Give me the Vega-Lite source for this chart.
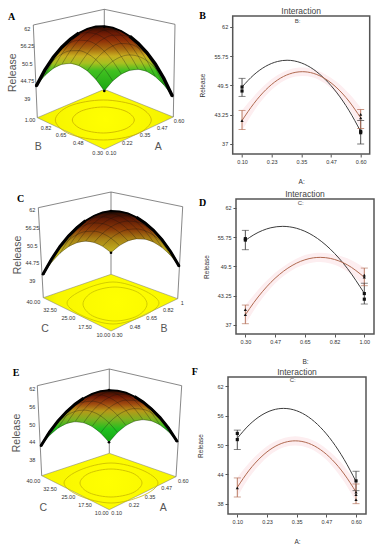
{"$schema":"https://vega.github.io/schema/vega-lite/v6.json","background":"white","padding":{"left":0,"top":5,"right":0,"bottom":0},"bounds":"flush","spacing":361,
"config":{"view":{"stroke":null},"font":"Liberation Sans"},
"datasets":{
"dome":[
{"x":-68,"aT":85,"aB":85,"cT":273.3,"cB":273.3,"eT":446.7,"eB":446.7},
{"x":-59.5,"aT":69.1,"aB":74.7,"cT":258.2,"cB":261.5,"eT":433,"eB":436.6},
{"x":-51,"aT":56.25,"aB":67.5,"cT":245.5,"cB":252.3,"eT":422,"eB":429.2},
{"x":-42.5,"aT":46.2,"aB":63.44,"cT":235.1,"cB":245.7,"eT":412.8,"eB":424.7},
{"x":-34,"aT":38.2,"aB":62.5,"cT":226.5,"cB":241.7,"eT":405.2,"eB":422.85},
{"x":-25.5,"aT":32.05,"aB":64.7,"cT":219.7,"cB":240.3,"eT":399.2,"eB":423.8},
{"x":-17,"aT":27.83,"aB":70,"cT":214.7,"cB":241.5,"eT":394.9,"eB":427.5},
{"x":-8.5,"aT":25.5,"aB":78.4,"cT":211.4,"cB":245.3,"eT":392.2,"eB":434},
{"x":0,"aT":25.11,"aB":90,"cT":210,"cB":251.7,"eT":391.05,"eB":443.3},
{"x":8.5,"aT":26.6,"aB":80.1,"cT":210.3,"cB":244.6,"eT":391.6,"eB":433.6},
{"x":17,"aT":30,"aB":73.25,"cT":212.4,"cB":240,"eT":393.7,"eB":426.55},
{"x":25.5,"aT":35.3,"aB":69.4,"cT":216.2,"cB":237.9,"eT":397.5,"eB":422.3},
{"x":34,"aT":42.5,"aB":68.5,"cT":221.9,"cB":238.3,"eT":402.9,"eB":420.8},
{"x":42.5,"aT":51.6,"aB":70.6,"cT":229.3,"cB":241.2,"eT":410,"eB":422.05},
{"x":51,"aT":63,"aB":75.75,"cT":238.6,"cB":246.6,"eT":418.6,"eB":426.05},
{"x":59.5,"aT":77.4,"aB":83.9,"cT":250.5,"cB":254.5,"eT":429.1,"eB":432.8},
{"x":68,"aT":95,"aB":95,"cT":264.9,"cB":264.9,"eT":442.3,"eB":442.3}],
"mesh":[
{"u":-1,"v":-1,"x":0,"a":90,"c":251.7,"e":443.3},{"u":-1,"v":-0.75,"x":-8.5,"a":78.44,"c":245.3,"e":434},{"u":-1,"v":-0.5,"x":-17,"a":70,"c":241.5,"e":427.5},{"u":-1,"v":-0.25,"x":-25.5,"a":64.69,"c":240.3,"e":423.8},{"u":-1,"v":0,"x":-34,"a":62.5,"c":241.7,"e":422.85},{"u":-1,"v":0.25,"x":-42.5,"a":63.44,"c":245.7,"e":424.65},{"u":-1,"v":0.5,"x":-51,"a":67.5,"c":252.3,"e":429.2},{"u":-1,"v":0.75,"x":-59.5,"a":74.69,"c":261.5,"e":436.6},{"u":-1,"v":1,"x":-68,"a":85,"c":273.3,"e":446.7},
{"u":-0.75,"v":-1,"x":8.5,"a":80.1,"c":244.6,"e":433.55},{"u":-0.75,"v":-0.75,"x":0,"a":67.8,"c":237.2,"e":423.8},{"u":-0.75,"v":-0.5,"x":-8.5,"a":58.6,"c":232.4,"e":416.8},{"u":-0.75,"v":-0.25,"x":-17,"a":52.6,"c":230.2,"e":412.6},{"u":-0.75,"v":0,"x":-25.5,"a":49.6,"c":230.6,"e":411.1},{"u":-0.75,"v":0.25,"x":-34,"a":49.8,"c":233.6,"e":412.45},{"u":-0.75,"v":0.5,"x":-42.5,"a":53.1,"c":239.2,"e":416.5},{"u":-0.75,"v":0.75,"x":-51,"a":59.6,"c":247.4,"e":423.4},{"u":-0.75,"v":1,"x":-59.5,"a":69.1,"c":258.2,"e":433},
{"u":-0.5,"v":-1,"x":17,"a":73.25,"c":240,"e":426.55},{"u":-0.5,"v":-0.75,"x":8.5,"a":60.2,"c":231.6,"e":416.3},{"u":-0.5,"v":-0.5,"x":0,"a":50.25,"c":225.8,"e":408.8},{"u":-0.5,"v":-0.25,"x":-8.5,"a":43.4,"c":222.6,"e":404.1},{"u":-0.5,"v":0,"x":-17,"a":39.75,"c":221.95,"e":402.2},{"u":-0.5,"v":0.25,"x":-25.5,"a":39.2,"c":223.9,"e":403},{"u":-0.5,"v":0.5,"x":-34,"a":41.75,"c":228.5,"e":406.6},{"u":-0.5,"v":0.75,"x":-42.5,"a":47.4,"c":235.7,"e":413},{"u":-0.5,"v":1,"x":-51,"a":56.25,"c":245.5,"e":422.1},
{"u":-0.25,"v":-1,"x":25.5,"a":69.4,"c":237.9,"e":422.3},{"u":-0.25,"v":-0.75,"x":17,"a":55.6,"c":228.5,"e":411.6},{"u":-0.25,"v":-0.5,"x":8.5,"a":44.9,"c":221.7,"e":403.6},{"u":-0.25,"v":-0.25,"x":0,"a":37.3,"c":217.4,"e":398.4},{"u":-0.25,"v":0,"x":-8.5,"a":32.9,"c":215.8,"e":396},{"u":-0.25,"v":0.25,"x":-17,"a":31.6,"c":216.8,"e":396.3},{"u":-0.25,"v":0.5,"x":-25.5,"a":33.4,"c":220.4,"e":399.4},{"u":-0.25,"v":0.75,"x":-34,"a":38.3,"c":226.6,"e":405.3},{"u":-0.25,"v":1,"x":-42.5,"a":46.4,"c":235.35,"e":413.9},
{"u":0,"v":-1,"x":34,"a":68.5,"c":238.3,"e":420.8},{"u":0,"v":-0.75,"x":25.5,"a":53.9,"c":227.9,"e":409.6},{"u":0,"v":-0.5,"x":17,"a":42.5,"c":220.05,"e":401.1},{"u":0,"v":-0.25,"x":8.5,"a":34.2,"c":214.8,"e":395.4},{"u":0,"v":0,"x":0,"a":29,"c":212.2,"e":392.5},{"u":0,"v":0.25,"x":-8.5,"a":26.9,"c":212.2,"e":392.3},{"u":0,"v":0.5,"x":-17,"a":28,"c":214.75,"e":395},{"u":0,"v":0.75,"x":-25.5,"a":32.2,"c":219.9,"e":400.35},
{"u":0.25,"v":-1,"x":42.5,"a":70.6,"c":241.2,"e":422.05},{"u":0.25,"v":-0.75,"x":34,"a":55.3,"c":229.8,"e":410.3},{"u":0.25,"v":-0.5,"x":25.5,"a":43.1,"c":220.9,"e":401.4},{"u":0.25,"v":-0.25,"x":17,"a":34.1,"c":214.7,"e":395.2},{"u":0.25,"v":0,"x":8.5,"a":28.1,"c":211.1,"e":391.8},{"u":0.25,"v":0.25,"x":0,"a":25.3,"c":210,"e":391.1},{"u":0.25,"v":0.5,"x":-8.5,"a":25.6,"c":211.6,"e":393.3},
{"u":0.5,"v":-1,"x":51,"a":75.75,"c":246.6,"e":426.05},{"u":0.5,"v":-0.75,"x":42.5,"a":59.7,"c":234.2,"e":413.8},{"u":0.5,"v":-0.5,"x":34,"a":46.75,"c":224.3,"e":404.4},{"u":0.5,"v":-0.25,"x":25.5,"a":36.9,"c":217.1,"e":397.7},{"u":0.5,"v":0,"x":17,"a":30.25,"c":212.45,"e":393.8},{"u":0.5,"v":0.25,"x":8.5,"a":26.7,"c":210.4,"e":392.7},
{"u":0.75,"v":-1,"x":59.5,"a":83.9,"c":254.5,"e":432.8},{"u":0.75,"v":-0.75,"x":51,"a":67.1,"c":241.1,"e":420.1},{"u":0.75,"v":-0.5,"x":42.5,"a":53.4,"c":230.2,"e":410.2},{"u":0.75,"v":-0.25,"x":34,"a":42.8,"c":222,"e":403},{"u":0.75,"v":0,"x":25.5,"a":35.4,"c":216.3,"e":398.6},
{"u":1,"v":-1,"x":68,"a":95,"c":264.9,"e":442.3},{"u":1,"v":-0.75,"x":59.5,"a":77.4,"c":250.5,"e":429.1},{"u":1,"v":-0.5,"x":51,"a":63,"c":238.6,"e":418.7},{"u":1,"v":-0.25,"x":42.5,"a":51.7,"c":229.35,"e":411}],
"curveB":[
{"x":0.1,"s":"low","y":49.15},{"x":0.15,"s":"low","y":51.76},{"x":0.2,"s":"low","y":53.58},{"x":0.25,"s":"low","y":54.6},{"x":0.29,"s":"low","y":54.86},{"x":0.35,"s":"low","y":54.29},{"x":0.4,"s":"low","y":52.95},{"x":0.45,"s":"low","y":50.8},{"x":0.5,"s":"low","y":47.9},{"x":0.55,"s":"low","y":44.2},{"x":0.6,"s":"low","y":39.66},
{"x":0.1,"s":"high","y":42,"lo":39.8,"hi":44.2},{"x":0.15,"s":"high","y":45.64,"lo":44,"hi":47.2},{"x":0.2,"s":"high","y":48.55,"lo":47.3,"hi":49.8},{"x":0.25,"s":"high","y":50.66,"lo":49.6,"hi":51.7},{"x":0.3,"s":"high","y":51.94,"lo":51,"hi":52.9},{"x":0.354,"s":"high","y":52.42,"lo":51.5,"hi":53.3},{"x":0.4,"s":"high","y":52.08,"lo":51.2,"hi":53},{"x":0.45,"s":"high","y":50.92,"lo":49.9,"hi":51.9},{"x":0.5,"s":"high","y":48.95,"lo":47.7,"hi":50.2},{"x":0.55,"s":"high","y":46.16,"lo":44.6,"hi":47.8},{"x":0.6,"s":"high","y":42.56,"lo":40.3,"hi":44.8}],
"errB":[{"x":0.1,"s":"low","lo":47.15,"hi":51},{"x":0.6,"s":"low","lo":37,"hi":42},{"x":0.1,"s":"high","lo":40.08,"hi":44.16},{"x":0.6,"s":"high","lo":40.3,"hi":44.36}],
"ptsB":[{"x":0.1,"s":"low","y":49.15},{"x":0.1,"s":"low","y":48.3},{"x":0.6,"s":"low","y":39.7},{"x":0.6,"s":"low","y":39.4},{"x":0.1,"s":"high","y":42},{"x":0.6,"s":"high","y":42.56},{"x":0.6,"s":"high","y":43.3}],
"curveD":[
{"x":0.3,"s":"low","y":55.02},{"x":0.35,"s":"low","y":56.23},{"x":0.4,"s":"low","y":57.13},{"x":0.45,"s":"low","y":57.72},{"x":0.52,"s":"low","y":58.02},{"x":0.6,"s":"low","y":57.62},{"x":0.7,"s":"low","y":56.02},{"x":0.8,"s":"low","y":53.16},{"x":0.9,"s":"low","y":49.07},{"x":1,"s":"low","y":43.74},
{"x":0.3,"s":"high","y":39.15,"lo":37.1,"hi":41.2},{"x":0.35,"s":"high","y":41.78,"lo":40.1,"hi":43.4},{"x":0.4,"s":"high","y":44.08,"lo":42.7,"hi":45.5},{"x":0.45,"s":"high","y":46.08,"lo":44.9,"hi":47.3},{"x":0.5,"s":"high","y":47.75,"lo":46.7,"hi":48.8},{"x":0.55,"s":"high","y":49.11,"lo":48.1,"hi":50.1},{"x":0.6,"s":"high","y":50.16,"lo":49.2,"hi":51.1},{"x":0.65,"s":"high","y":50.89,"lo":49.9,"hi":51.9},{"x":0.7,"s":"high","y":51.31,"lo":50.3,"hi":52.3},{"x":0.741,"s":"high","y":51.41,"lo":50.4,"hi":52.4},{"x":0.8,"s":"high","y":51.19,"lo":50.1,"hi":52.2},{"x":0.9,"s":"high","y":49.82,"lo":48.4,"hi":51.2},{"x":1,"s":"high","y":47.18,"lo":45.2,"hi":49.2}],
"errD":[{"x":0.3,"s":"low","lo":53.04,"hi":57.17},{"x":1,"s":"low","lo":41.47,"hi":45.9},{"x":0.3,"s":"high","lo":37.27,"hi":41.25},{"x":1,"s":"high","lo":45.37,"hi":49.13}],
"ptsD":[{"x":0.3,"s":"low","y":55.1},{"x":0.3,"s":"low","y":55.4},{"x":1,"s":"low","y":43.7},{"x":1,"s":"low","y":42.5},{"x":0.3,"s":"high","y":39.2},{"x":0.3,"s":"high","y":40.25},{"x":1,"s":"high","y":47.2},{"x":1,"s":"high","y":47.64}],
"curveF":[
{"x":0.1,"s":"low","y":51.37},{"x":0.15,"s":"low","y":54.09},{"x":0.2,"s":"low","y":56.01},{"x":0.25,"s":"low","y":57.13},{"x":0.295,"s":"low","y":57.45},{"x":0.35,"s":"low","y":56.97},{"x":0.4,"s":"low","y":55.69},{"x":0.45,"s":"low","y":53.61},{"x":0.5,"s":"low","y":50.73},{"x":0.55,"s":"low","y":47.05},{"x":0.6,"s":"low","y":42.57},
{"x":0.1,"s":"high","y":41.38,"lo":39.4,"hi":43.4},{"x":0.15,"s":"high","y":44.87,"lo":43.4,"hi":46.4},{"x":0.2,"s":"high","y":47.55,"lo":46.3,"hi":48.8},{"x":0.25,"s":"high","y":49.45,"lo":48.4,"hi":50.5},{"x":0.3,"s":"high","y":50.54,"lo":49.6,"hi":51.5},{"x":0.344,"s":"high","y":50.85,"lo":49.9,"hi":51.8},{"x":0.4,"s":"high","y":50.35,"lo":49.4,"hi":51.3},{"x":0.45,"s":"high","y":49.06,"lo":48,"hi":50.1},{"x":0.5,"s":"high","y":46.98,"lo":45.7,"hi":48.2},{"x":0.55,"s":"high","y":44.1,"lo":42.5,"hi":45.7},{"x":0.6,"s":"high","y":40.43,"lo":38.4,"hi":42.4}],
"errF":[{"x":0.1,"s":"low","lo":49.08,"hi":53.03},{"x":0.6,"s":"low","lo":40.71,"hi":44.66},{"x":0.1,"s":"high","lo":39.42,"hi":43.3},{"x":0.6,"s":"high","lo":38.06,"hi":42.07}],
"ptsF":[{"x":0.1,"s":"low","y":51.1},{"x":0.1,"s":"low","y":52.35},{"x":0.6,"s":"low","y":42.7},{"x":0.1,"s":"high","y":41.3},{"x":0.6,"s":"high","y":40.4},{"x":0.6,"s":"high","y":39.9},{"x":0.6,"s":"high","y":38.9}]
},
"vconcat":[
{"bounds":"flush","spacing":183,"vconcat":[
{"bounds":"flush","spacing":40.7,"hconcat":[
{"width":192,"height":138,"encoding":{"x":{"field":"x","type":"quantitative","scale":{"domain":[-104.3,87.7]},"axis":null},"y":{"field":"y","type":"quantitative","scale":{"domain":[153,15]},"axis":null}},
"layer":[
{"data":{"values":[{"w":1,"i":0,"x":-67,"y":116.7},{"w":1,"i":1,"x":-71,"y":24},{"w":1,"i":2,"x":0,"y":8.3},{"w":1,"i":3,"x":70.7,"y":23.3},{"w":1,"i":4,"x":69,"y":116},{"w":2,"i":0,"x":0,"y":8.3},{"w":2,"i":1,"x":0,"y":88.3}]},"mark":{"type":"line","color":"#555","strokeWidth":0.7},"encoding":{"detail":{"field":"w"},"order":{"field":"i"}}},
{"data":{"values":[{"x":-67,"y":116.7,"y2":116.7},{"x":0,"y":88.3,"y2":148.3},{"x":69,"y":116,"y2":116}]},"mark":{"type":"area","stroke":"#777","strokeWidth":0.5,"color":{"gradient":"radial","x1":0.5,"y1":0.5,"r1":0,"x2":0.5,"y2":0.5,"r2":0.72,"stops":[{"offset":0,"color":"#ffff00"},{"offset":0.6,"color":"#f6f400"},{"offset":1,"color":"#b8cc10"}]}},"encoding":{"y2":{"field":"y2"}}},
{"data":{"values":[{"r":1,"i":0,"x":30,"y":119},{"r":1,"i":1,"x":20.7,"y":128.1},{"r":1,"i":2,"x":-1,"y":132},{"r":1,"i":3,"x":-22.7,"y":128.1},{"r":1,"i":4,"x":-32,"y":119},{"r":1,"i":5,"x":-22.7,"y":109.9},{"r":1,"i":6,"x":-1,"y":106},{"r":1,"i":7,"x":20.7,"y":109.9},{"r":2,"i":0,"x":47,"y":119},{"r":2,"i":1,"x":32.6,"y":133},{"r":2,"i":2,"x":-1,"y":139},{"r":2,"i":3,"x":-34.6,"y":133},{"r":2,"i":4,"x":-49,"y":119},{"r":2,"i":5,"x":-34.6,"y":105},{"r":2,"i":6,"x":-1,"y":99},{"r":2,"i":7,"x":32.6,"y":105}]},"mark":{"type":"line","interpolate":"cardinal-closed","color":"#c8b000","strokeWidth":0.8},"encoding":{"detail":{"field":"r"},"order":{"field":"i"}}},
{"data":{"name":"dome"},"mark":{"type":"area","color":{"gradient":"linear","x1":0,"y1":0,"x2":0,"y2":1,"stops":[{"offset":0,"color":"#2a0a00"},{"offset":0.1,"color":"#6b1a05"},{"offset":0.21,"color":"#8f3008"},{"offset":0.33,"color":"#a86a10"},{"offset":0.43,"color":"#c8b020"},{"offset":0.53,"color":"#a8c020"},{"offset":0.64,"color":"#40c020"},{"offset":1,"color":"#10a010"}]}},"encoding":{"y":{"field":"aT","type":"quantitative","axis":null},"y2":{"field":"aB"}}},
{"data":{"name":"mesh"},"mark":{"type":"line","color":"#111","strokeWidth":0.5,"opacity":0.6,"interpolate":"monotone"},"encoding":{"y":{"field":"a","type":"quantitative","axis":null},"detail":{"field":"u"},"order":{"field":"v"}}},
{"data":{"name":"mesh"},"mark":{"type":"line","color":"#111","strokeWidth":0.5,"opacity":0.6,"interpolate":"monotone"},"encoding":{"y":{"field":"a","type":"quantitative","axis":null},"detail":{"field":"v"},"order":{"field":"u"}}},
{"data":{"name":"dome"},"mark":{"type":"line","color":"#000","strokeWidth":1.8},"encoding":{"y":{"field":"aT","type":"quantitative","axis":null}}},
{"data":{"name":"dome"},"transform":[{"filter":"datum.x<-20"}],"mark":{"type":"line","color":"#000","strokeWidth":3.4},"encoding":{"y":{"field":"aT","type":"quantitative","axis":null}}},
{"data":{"name":"dome"},"transform":[{"filter":"datum.x>20"}],"mark":{"type":"line","color":"#000","strokeWidth":3.4},"encoding":{"y":{"field":"aT","type":"quantitative","axis":null}}},
{"data":{"values":[{"x":-68,"y":85},{"x":0,"y":90},{"x":68,"y":95},{"x":0,"y":26}]},"mark":{"type":"point","filled":true,"color":"#000","size":7,"opacity":1}},
{"data":{"values":[{"t":"62","x":-77,"y":28.3},{"t":"56.25","x":-77,"y":45},{"t":"50.5","x":-77,"y":62.7},{"t":"44.75","x":-77,"y":80},{"t":"39","x":-77,"y":98.3},{"t":"1.00","x":-74.3,"y":119},{"t":"0.82","x":-58.3,"y":127.3},{"t":"0.65","x":-43.3,"y":134},{"t":"0.48","x":-26,"y":141.7},{"t":"0.30","x":-6.6,"y":151.7},{"t":"0.10","x":6.7,"y":151.7},{"t":"0.22","x":23,"y":141.7},{"t":"0.35","x":40.7,"y":134.3},{"t":"0.47","x":58,"y":126.7},{"t":"0.60","x":74.7,"y":120}]},"mark":{"type":"text","fontSize":5.5,"color":"#333"},"encoding":{"text":{"field":"t"}}},
{"data":{"values":[{"t":"B","x":-66,"y":146},{"t":"A","x":54,"y":146}]},"mark":{"type":"text","fontSize":10.5,"color":"#555"},"encoding":{"text":{"field":"t"}}},
{"data":{"values":[{"t":"Release","x":-91.6,"y":71.7}]},"mark":{"type":"text","fontSize":10.5,"angle":270,"color":"#555"},"encoding":{"text":{"field":"t"}}},
{"data":{"values":[{"t":"A","x":-92.6,"y":15.7},{"t":"B","x":98.4,"y":14.7}]},"mark":{"type":"text","fontSize":10,"font":"Liberation Serif","fontWeight":"bold","color":"#000"},"encoding":{"text":{"field":"t"}}}
]},
{"width":137,"height":138,"view":{"stroke":"#555","strokeWidth":1.5},"title":{"text":"Interaction","fontSize":8.5,"fontWeight":"normal","color":"#444","offset":1},
"encoding":{"x":{"field":"x","type":"quantitative","scale":{"domain":[0.0607,0.638]},"axis":{"values":[0.1,0.225,0.35,0.475,0.6],"format":".2f","title":"A:","grid":false,"domain":false,"tickSize":3,"tickColor":"#555","labelFontSize":5.5,"labelColor":"#333","labelPadding":2,"titleFontSize":6.5,"titleFontWeight":"normal","titleColor":"#333","titlePadding":14}},"y":{"field":"y","type":"quantitative","scale":{"domain":[34.86,64.3]},"axis":{"values":[37,43.25,49.5,55.75,62],"format":".2~f","title":"Release","grid":false,"domain":false,"tickSize":3,"tickColor":"#555","labelFontSize":5.5,"labelColor":"#333","labelPadding":2,"titleFontSize":6.5,"titleFontWeight":"normal","titleColor":"#333","titlePadding":8}},"color":{"field":"s","type":"nominal","scale":{"domain":["low","high"],"range":["#3c3c3c","#b06a50"]},"legend":null}},
"layer":[
{"data":{"name":"curveB"},"transform":[{"filter":"datum.s==='high'"}],"mark":{"type":"area","color":"#fdeef0","interpolate":"monotone"},"encoding":{"color":{"value":"#fdeef0"},"y":{"field":"lo","type":"quantitative"},"y2":{"field":"hi"}}},
{"data":{"name":"curveB"},"mark":{"type":"line","interpolate":"monotone","strokeWidth":1}},
{"data":{"name":"errB"},"mark":{"type":"rule","strokeWidth":0.9},"encoding":{"y":{"field":"lo","type":"quantitative"},"y2":{"field":"hi"}}},
{"data":{"name":"errB"},"mark":{"type":"tick","orient":"horizontal","size":7,"thickness":0.9},"encoding":{"y":{"field":"lo","type":"quantitative"}}},
{"data":{"name":"errB"},"mark":{"type":"tick","orient":"horizontal","size":7,"thickness":0.9},"encoding":{"y":{"field":"hi","type":"quantitative"}}},
{"data":{"name":"ptsB"},"mark":{"type":"point","filled":true,"size":10,"opacity":1},"encoding":{"color":{"value":"#111"},"shape":{"field":"s","type":"nominal","scale":{"domain":["low","high"],"range":["square","triangle-up"]},"legend":null}}},
{"data":{"values":[{"x":0.334,"y":63.3,"t":"B:"}]},"mark":{"type":"text","fontSize":6,"color":"#444"},"encoding":{"color":{"value":"#444"},"text":{"field":"t"}}}
]}
]},
{"bounds":"flush","spacing":44,"hconcat":[
{"width":192,"height":135,"encoding":{"x":{"field":"x","type":"quantitative","scale":{"domain":[-111,81]},"axis":null},"y":{"field":"y","type":"quantitative","scale":{"domain":[333,198]},"axis":null}},
"layer":[
{"data":{"values":[{"w":1,"i":0,"x":-67.7,"y":296.7},{"w":1,"i":1,"x":-72.7,"y":206.7},{"w":1,"i":2,"x":0,"y":191},{"w":1,"i":3,"x":71.7,"y":205.7},{"w":1,"i":4,"x":66.7,"y":297.7},{"w":2,"i":0,"x":0,"y":191},{"w":2,"i":1,"x":0,"y":273.3}]},"mark":{"type":"line","color":"#555","strokeWidth":0.7},"encoding":{"detail":{"field":"w"},"order":{"field":"i"}}},
{"data":{"values":[{"x":-67.7,"y":296.7,"y2":296.7},{"x":0,"y":273.3,"y2":330},{"x":66.7,"y":297.7,"y2":297.7}]},"mark":{"type":"area","stroke":"#777","strokeWidth":0.5,"color":{"gradient":"radial","x1":0.55,"y1":0.5,"r1":0,"x2":0.55,"y2":0.5,"r2":0.75,"stops":[{"offset":0,"color":"#ffff00"},{"offset":0.6,"color":"#f8f600"},{"offset":1,"color":"#bcd010"}]}},"encoding":{"y2":{"field":"y2"}}},
{"data":{"values":[{"r":1,"i":0,"x":36,"y":303},{"r":1,"i":1,"x":26.4,"y":314.9},{"r":1,"i":2,"x":4,"y":320},{"r":1,"i":3,"x":-18.4,"y":314.9},{"r":1,"i":4,"x":-28,"y":303},{"r":1,"i":5,"x":-18.4,"y":291.1},{"r":1,"i":6,"x":4,"y":286},{"r":1,"i":7,"x":26.4,"y":291.1},{"r":2,"i":0,"x":48,"y":302},{"r":2,"i":1,"x":32,"y":315},{"r":2,"i":2,"x":2,"y":323},{"r":2,"i":3,"x":-28,"y":315},{"r":2,"i":4,"x":-44,"y":302},{"r":2,"i":5,"x":-28,"y":289},{"r":2,"i":6,"x":2,"y":281},{"r":2,"i":7,"x":32,"y":289}]},"mark":{"type":"line","interpolate":"cardinal-closed","color":"#c8c000","strokeWidth":0.8},"encoding":{"detail":{"field":"r"},"order":{"field":"i"}}},
{"data":{"name":"dome"},"mark":{"type":"area","color":{"gradient":"linear","x1":0,"y1":0,"x2":0,"y2":1,"stops":[{"offset":0,"color":"#200800"},{"offset":0.13,"color":"#5f1a05"},{"offset":0.29,"color":"#8a3a08"},{"offset":0.44,"color":"#a88015"},{"offset":0.63,"color":"#c0b020"},{"offset":1,"color":"#d0d010"}]}},"encoding":{"y":{"field":"cT","type":"quantitative","axis":null},"y2":{"field":"cB"}}},
{"data":{"name":"mesh"},"mark":{"type":"line","color":"#111","strokeWidth":0.5,"opacity":0.6,"interpolate":"monotone"},"encoding":{"y":{"field":"c","type":"quantitative","axis":null},"detail":{"field":"u"},"order":{"field":"v"}}},
{"data":{"name":"mesh"},"mark":{"type":"line","color":"#111","strokeWidth":0.5,"opacity":0.6,"interpolate":"monotone"},"encoding":{"y":{"field":"c","type":"quantitative","axis":null},"detail":{"field":"v"},"order":{"field":"u"}}},
{"data":{"name":"dome"},"mark":{"type":"line","color":"#000","strokeWidth":1.8},"encoding":{"y":{"field":"cT","type":"quantitative","axis":null}}},
{"data":{"name":"dome"},"transform":[{"filter":"datum.x<-20"}],"mark":{"type":"line","color":"#000","strokeWidth":3},"encoding":{"y":{"field":"cT","type":"quantitative","axis":null}}},
{"data":{"name":"dome"},"transform":[{"filter":"datum.x>20"}],"mark":{"type":"line","color":"#000","strokeWidth":3},"encoding":{"y":{"field":"cT","type":"quantitative","axis":null}}},
{"data":{"values":[{"x":-68,"y":273.3},{"x":0,"y":251.7},{"x":68,"y":264.9},{"x":0,"y":210}]},"mark":{"type":"point","filled":true,"color":"#000","size":7,"opacity":1}},
{"data":{"values":[{"t":"62","x":-78.7,"y":209},{"t":"56.25","x":-78.7,"y":227.3},{"t":"50.5","x":-78.7,"y":245},{"t":"44.75","x":-78.7,"y":262.3},{"t":"39","x":-78.7,"y":280},{"t":"40.00","x":-77.7,"y":300.7},{"t":"32.50","x":-61,"y":309},{"t":"25.00","x":-42.7,"y":317.3},{"t":"17.50","x":-26,"y":325.7},{"t":"10.00","x":-7.7,"y":334},{"t":"0.30","x":6.3,"y":334},{"t":"0.48","x":24,"y":325.7},{"t":"0.65","x":40.7,"y":317.3},{"t":"0.82","x":57.3,"y":309},{"t":"1","x":71.3,"y":301.7}]},"mark":{"type":"text","fontSize":5.5,"color":"#333"},"encoding":{"text":{"field":"t"}}},
{"data":{"values":[{"t":"C","x":-66,"y":328.3},{"t":"B","x":53,"y":328.3}]},"mark":{"type":"text","fontSize":10.5,"color":"#555"},"encoding":{"text":{"field":"t"}}},
{"data":{"values":[{"t":"Release","x":-92.7,"y":254}]},"mark":{"type":"text","fontSize":10.5,"angle":270,"color":"#555"},"encoding":{"text":{"field":"t"}}},
{"data":{"values":[{"t":"C","x":-90.3,"y":197.7},{"t":"D","x":91.7,"y":201.7}]},"mark":{"type":"text","fontSize":10,"font":"Liberation Serif","fontWeight":"bold","color":"#000"},"encoding":{"text":{"field":"t"}}}
]},
{"width":138,"height":135,"view":{"stroke":"#555","strokeWidth":1.5},"title":{"text":"Interaction","fontSize":8.5,"fontWeight":"normal","color":"#444","offset":1},
"encoding":{"x":{"field":"x","type":"quantitative","scale":{"domain":[0.245,1.057]},"axis":{"values":[0.3,0.475,0.65,0.825,1],"format":".2f","title":"B:","grid":false,"domain":false,"tickSize":3,"tickColor":"#555","labelFontSize":5.5,"labelColor":"#333","labelPadding":2,"titleFontSize":6.5,"titleFontWeight":"normal","titleColor":"#333","titlePadding":14}},"y":{"field":"y","type":"quantitative","scale":{"domain":[35.08,63.85]},"axis":{"values":[37,43.25,49.5,55.75,62],"format":".2~f","title":"Release","grid":false,"domain":false,"tickSize":3,"tickColor":"#555","labelFontSize":5.5,"labelColor":"#333","labelPadding":2,"titleFontSize":6.5,"titleFontWeight":"normal","titleColor":"#333","titlePadding":8}},"color":{"field":"s","type":"nominal","scale":{"domain":["low","high"],"range":["#3c3c3c","#b06a50"]},"legend":null}},
"layer":[
{"data":{"name":"curveD"},"transform":[{"filter":"datum.s==='high'"}],"mark":{"type":"area","color":"#fdeef0","interpolate":"monotone"},"encoding":{"color":{"value":"#fdeef0"},"y":{"field":"lo","type":"quantitative"},"y2":{"field":"hi"}}},
{"data":{"name":"curveD"},"mark":{"type":"line","interpolate":"monotone","strokeWidth":1}},
{"data":{"name":"errD"},"mark":{"type":"rule","strokeWidth":0.9},"encoding":{"y":{"field":"lo","type":"quantitative"},"y2":{"field":"hi"}}},
{"data":{"name":"errD"},"mark":{"type":"tick","orient":"horizontal","size":7,"thickness":0.9},"encoding":{"y":{"field":"lo","type":"quantitative"}}},
{"data":{"name":"errD"},"mark":{"type":"tick","orient":"horizontal","size":7,"thickness":0.9},"encoding":{"y":{"field":"hi","type":"quantitative"}}},
{"data":{"name":"ptsD"},"mark":{"type":"point","filled":true,"size":10,"opacity":1},"encoding":{"color":{"value":"#111"},"shape":{"field":"s","type":"nominal","scale":{"domain":["low","high"],"range":["square","triangle-up"]},"legend":null}}},
{"data":{"values":[{"x":0.626,"y":63,"t":"C:"}]},"mark":{"type":"text","fontSize":6,"color":"#444"},"encoding":{"color":{"value":"#444"},"text":{"field":"t"}}}
]}
]}
]},
{"bounds":"flush","spacing":36,"hconcat":[
{"width":192,"height":137,"encoding":{"x":{"field":"x","type":"quantitative","scale":{"domain":[-109,83]},"axis":null},"y":{"field":"y","type":"quantitative","scale":{"domain":[515,378]},"axis":null}},
"layer":[
{"data":{"values":[{"w":1,"i":0,"x":-67.3,"y":476.7},{"w":1,"i":1,"x":-71.7,"y":386.7},{"w":1,"i":2,"x":0.3,"y":370},{"w":1,"i":3,"x":72.7,"y":386.7},{"w":1,"i":4,"x":67,"y":477.7},{"w":2,"i":0,"x":0.3,"y":370},{"w":2,"i":1,"x":0.3,"y":454.3}]},"mark":{"type":"line","color":"#555","strokeWidth":0.7},"encoding":{"detail":{"field":"w"},"order":{"field":"i"}}},
{"data":{"values":[{"x":-67.3,"y":476.7,"y2":476.7},{"x":0.3,"y":454.3,"y2":510.7},{"x":67,"y":477.7,"y2":477.7}]},"mark":{"type":"area","stroke":"#777","strokeWidth":0.5,"color":{"gradient":"radial","x1":0.5,"y1":0.5,"r1":0,"x2":0.5,"y2":0.5,"r2":0.75,"stops":[{"offset":0,"color":"#ffff00"},{"offset":0.6,"color":"#f8f600"},{"offset":1,"color":"#bcd010"}]}},"encoding":{"y2":{"field":"y2"}}},
{"data":{"values":[{"r":1,"i":0,"x":33,"y":484},{"r":1,"i":1,"x":23.7,"y":493.8},{"r":1,"i":2,"x":2,"y":498},{"r":1,"i":3,"x":-19.7,"y":493.8},{"r":1,"i":4,"x":-29,"y":484},{"r":1,"i":5,"x":-19.7,"y":474.2},{"r":1,"i":6,"x":2,"y":470},{"r":1,"i":7,"x":23.7,"y":474.2},{"r":2,"i":0,"x":49,"y":484},{"r":2,"i":1,"x":33,"y":497},{"r":2,"i":2,"x":2,"y":504},{"r":2,"i":3,"x":-29,"y":497},{"r":2,"i":4,"x":-45,"y":484},{"r":2,"i":5,"x":-29,"y":471},{"r":2,"i":6,"x":2,"y":464},{"r":2,"i":7,"x":33,"y":471}]},"mark":{"type":"line","interpolate":"cardinal-closed","color":"#c8b800","strokeWidth":0.8},"encoding":{"detail":{"field":"r"},"order":{"field":"i"}}},
{"data":{"name":"dome"},"mark":{"type":"area","color":{"gradient":"linear","x1":0,"y1":0,"x2":0,"y2":1,"stops":[{"offset":0,"color":"#2a0a00"},{"offset":0.125,"color":"#701c05"},{"offset":0.25,"color":"#a04a10"},{"offset":0.375,"color":"#b89818"},{"offset":0.52,"color":"#80b020"},{"offset":0.7,"color":"#20c020"},{"offset":1,"color":"#10a010"}]}},"encoding":{"y":{"field":"eT","type":"quantitative","axis":null},"y2":{"field":"eB"}}},
{"data":{"name":"mesh"},"mark":{"type":"line","color":"#111","strokeWidth":0.5,"opacity":0.6,"interpolate":"monotone"},"encoding":{"y":{"field":"e","type":"quantitative","axis":null},"detail":{"field":"u"},"order":{"field":"v"}}},
{"data":{"name":"mesh"},"mark":{"type":"line","color":"#111","strokeWidth":0.5,"opacity":0.6,"interpolate":"monotone"},"encoding":{"y":{"field":"e","type":"quantitative","axis":null},"detail":{"field":"v"},"order":{"field":"u"}}},
{"data":{"name":"dome"},"mark":{"type":"line","color":"#000","strokeWidth":1.8},"encoding":{"y":{"field":"eT","type":"quantitative","axis":null}}},
{"data":{"name":"dome"},"transform":[{"filter":"datum.x<-20"}],"mark":{"type":"line","color":"#000","strokeWidth":3},"encoding":{"y":{"field":"eT","type":"quantitative","axis":null}}},
{"data":{"name":"dome"},"transform":[{"filter":"datum.x>20"}],"mark":{"type":"line","color":"#000","strokeWidth":3},"encoding":{"y":{"field":"eT","type":"quantitative","axis":null}}},
{"data":{"values":[{"x":-68,"y":446.7},{"x":0,"y":443.3},{"x":68,"y":442.3},{"x":0,"y":391}]},"mark":{"type":"point","filled":true,"color":"#000","size":7,"opacity":1}},
{"data":{"values":[{"t":"62","x":-76.7,"y":390},{"t":"56","x":-76.7,"y":407.7},{"t":"50","x":-76.7,"y":425.7},{"t":"44","x":-76.7,"y":443.3},{"t":"38","x":-76.7,"y":461},{"t":"40.00","x":-75.7,"y":481.7},{"t":"32.50","x":-59,"y":490},{"t":"25.00","x":-40.7,"y":497.7},{"t":"17.50","x":-24,"y":506},{"t":"10.00","x":-7.3,"y":514.3},{"t":"0.10","x":7.7,"y":514.3},{"t":"0.22","x":25,"y":506},{"t":"0.35","x":41,"y":497.7},{"t":"0.47","x":57.7,"y":489},{"t":"0.60","x":74.3,"y":481.7}]},"mark":{"type":"text","fontSize":5.5,"color":"#333"},"encoding":{"text":{"field":"t"}}},
{"data":{"values":[{"t":"C","x":-65.7,"y":509},{"t":"A","x":54.3,"y":509}]},"mark":{"type":"text","fontSize":10.5,"color":"#555"},"encoding":{"text":{"field":"t"}}},
{"data":{"values":[{"t":"Release","x":-91.7,"y":434}]},"mark":{"type":"text","fontSize":10.5,"angle":270,"color":"#555"},"encoding":{"text":{"field":"t"}}},
{"data":{"values":[{"t":"E","x":-93,"y":374},{"t":"F","x":85.7,"y":373.3}]},"mark":{"type":"text","fontSize":10,"font":"Liberation Serif","fontWeight":"bold","color":"#000"},"encoding":{"text":{"field":"t"}}}
]},
{"width":138,"height":137,"view":{"stroke":"#555","strokeWidth":1.5},"title":{"text":"Interaction","fontSize":8.5,"fontWeight":"normal","color":"#444","offset":1},
"encoding":{"x":{"field":"x","type":"quantitative","scale":{"domain":[0.0608,0.642]},"axis":{"values":[0.1,0.225,0.35,0.475,0.6],"format":".2f","title":"A:","grid":false,"domain":false,"tickSize":3,"tickColor":"#555","labelFontSize":5.5,"labelColor":"#333","labelPadding":2,"titleFontSize":6.5,"titleFontWeight":"normal","titleColor":"#333","titlePadding":14}},"y":{"field":"y","type":"quantitative","scale":{"domain":[35.96,63.84]},"axis":{"values":[38,44,50,56,62],"format":".2~f","title":"Release","grid":false,"domain":false,"tickSize":3,"tickColor":"#555","labelFontSize":5.5,"labelColor":"#333","labelPadding":2,"titleFontSize":6.5,"titleFontWeight":"normal","titleColor":"#333","titlePadding":13}},"color":{"field":"s","type":"nominal","scale":{"domain":["low","high"],"range":["#3c3c3c","#b06a50"]},"legend":null}},
"layer":[
{"data":{"name":"curveF"},"transform":[{"filter":"datum.s==='high'"}],"mark":{"type":"area","color":"#fdeef0","interpolate":"monotone"},"encoding":{"color":{"value":"#fdeef0"},"y":{"field":"lo","type":"quantitative"},"y2":{"field":"hi"}}},
{"data":{"name":"curveF"},"mark":{"type":"line","interpolate":"monotone","strokeWidth":1}},
{"data":{"name":"errF"},"mark":{"type":"rule","strokeWidth":0.9},"encoding":{"y":{"field":"lo","type":"quantitative"},"y2":{"field":"hi"}}},
{"data":{"name":"errF"},"mark":{"type":"tick","orient":"horizontal","size":7,"thickness":0.9},"encoding":{"y":{"field":"lo","type":"quantitative"}}},
{"data":{"name":"errF"},"mark":{"type":"tick","orient":"horizontal","size":7,"thickness":0.9},"encoding":{"y":{"field":"hi","type":"quantitative"}}},
{"data":{"name":"ptsF"},"mark":{"type":"point","filled":true,"size":10,"opacity":1},"encoding":{"color":{"value":"#111"},"shape":{"field":"s","type":"nominal","scale":{"domain":["low","high"],"range":["square","triangle-up"]},"legend":null}}},
{"data":{"values":[{"x":0.333,"y":63.16,"t":"C:"}]},"mark":{"type":"text","fontSize":6,"color":"#444"},"encoding":{"color":{"value":"#444"},"text":{"field":"t"}}}
]}
]}
]}
